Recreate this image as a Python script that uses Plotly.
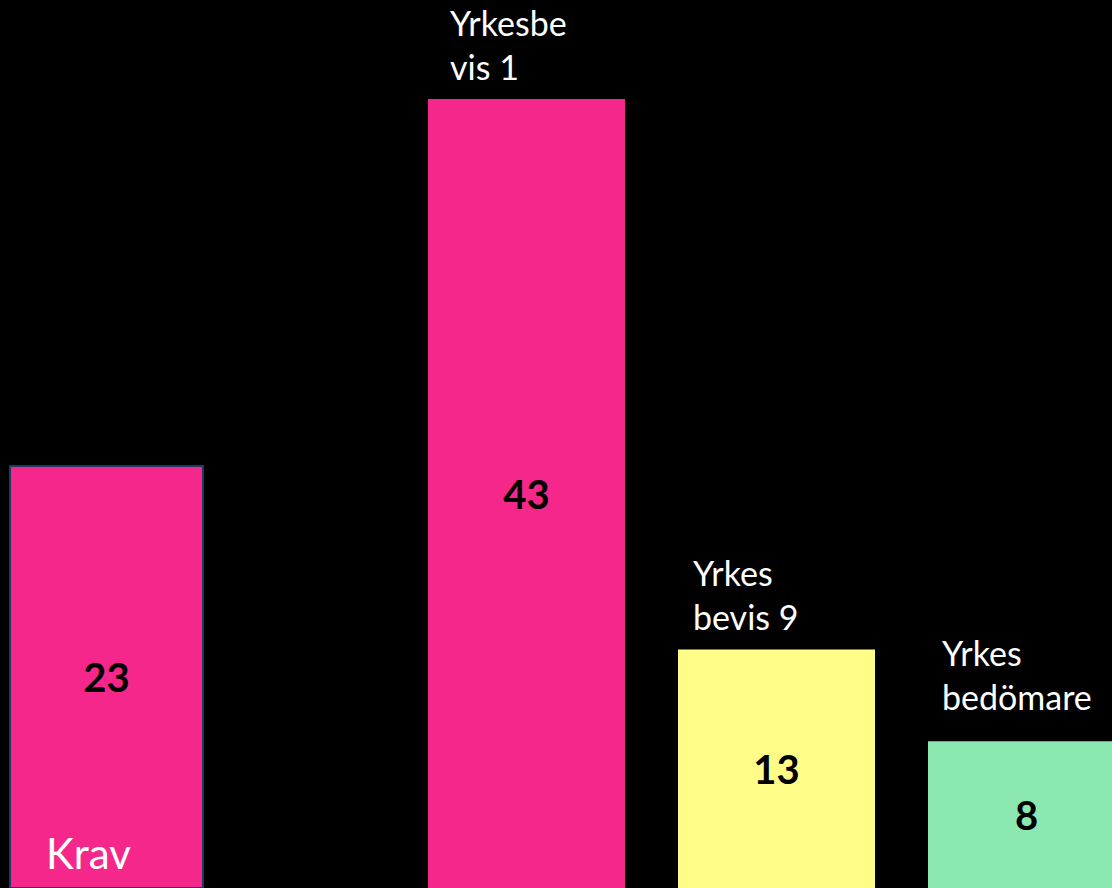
import plotly.graph_objects as go

# Données
categories = ["Krav", "Yrkesbevis 1", "Yrkesbevis 9", "Yrkesbedömare"]
values = [23, 43, 13, 8]
names = ["Krav", "Yrkesbe<br>vis 1", "Yrkes<br>bevis 9", "Yrkes<br>bedömare"]
colors = ["#F5278A", "#F5278A", "#FFFC88", "#8AE8B0"]

# Mise en page (positions des barres, en unités de 250 px)
bar_x = [0.426, 2.106, 3.106, 4.106]
bar_w = [0.772, 0.788, 0.788, 0.788]
line_w = [2, 0, 0, 0]
label_dx = [34, 20, 13, 12]
label_dy = [8, 10, 10, 22]

fig = go.Figure()
fig.add_trace(go.Bar(
    x=bar_x,
    y=values,
    width=bar_w,
    text=values,
    textposition="inside",
    insidetextanchor="middle",
    textangle=0,
    textfont=dict(family="Lato", size=40, color="black", weight="bold"),
    marker=dict(color=colors, line=dict(color="#1F3864", width=line_w)),
    hovertext=categories,
    showlegend=False,
))

# Étiquettes des barres
for i, (x, v, n) in enumerate(zip(bar_x, values, names)):
    left = x - bar_w[i] / 2
    if i == 0:
        fig.add_annotation(
            x=left, y=0, text=n, showarrow=False,
            xanchor="left", yanchor="bottom",
            xshift=label_dx[i], yshift=label_dy[i],
            font=dict(family="Lato", size=42, color="white"),
        )
    else:
        fig.add_annotation(
            x=left, y=v, text=n, showarrow=False, align="left",
            xanchor="left", yanchor="bottom",
            xshift=label_dx[i], yshift=label_dy[i],
            font=dict(family="Lato", size=34, color="white"),
        )

fig.update_layout(
    width=1112,
    height=888,
    margin=dict(l=0, r=0, t=0, b=0),
    plot_bgcolor="black",
    paper_bgcolor="black",
    xaxis=dict(range=[0, 4.448], visible=False),
    yaxis=dict(range=[0, 48.4], visible=False),
)

fig.write_html(
    "out.html",
    config={"displayModeBar": False},
    post_script="document.body.style.margin='0';document.body.style.background='black';",
)
